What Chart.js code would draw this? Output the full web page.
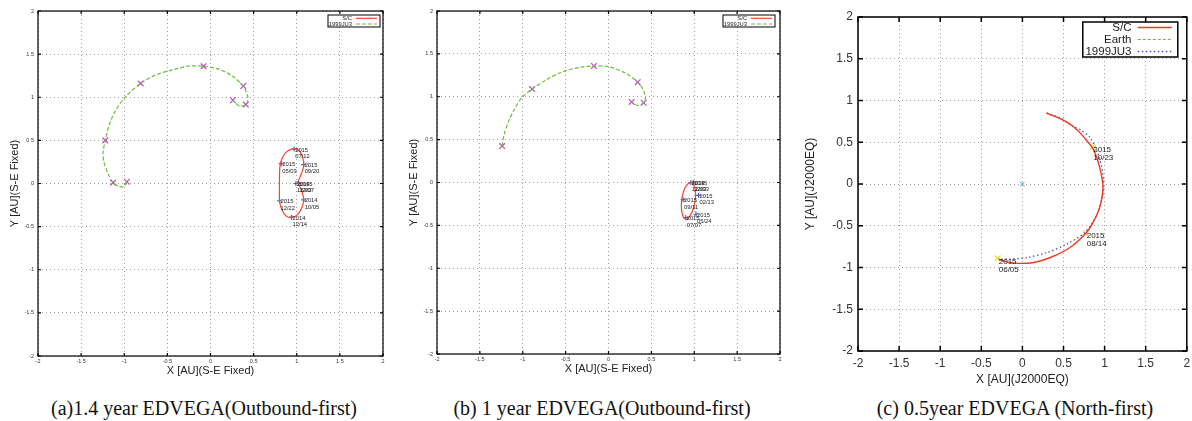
<!DOCTYPE html>
<html>
<head>
<meta charset="utf-8">
<script src="https://cdn.jsdelivr.net/npm/chart.js@4.4.0/dist/chart.umd.min.js"></script>
<style>
  body { margin: 0; background: #fff; width: 1192px; height: 421px; overflow: hidden; position: relative; }
  canvas { position: absolute; top: 0; }
  .cap { position: absolute; top: 397px; line-height: 22px; font-family: "Liberation Serif", "Times New Roman", serif; font-size: 20px; color: #111; white-space: nowrap; transform: translateX(-50%); }
</style>
</head>
<body>
<canvas id="graficoA" width="395" height="382" style="left:0px"></canvas>
<canvas id="graficoB" width="395" height="380" style="left:395px"></canvas>
<canvas id="graficoC" width="397" height="391" style="left:795px"></canvas>
<div class="cap" style="left:204px">(a)1.4 year EDVEGA(Outbound-first)</div>
<div class="cap" style="left:602px">(b) 1 year EDVEGA(Outbound-first)</div>
<div class="cap" style="left:1015px">(c) 0.5year EDVEGA (North-first)</div>
<script>
// ticks comuns (AU)
const ticksAU = [-2, -1.5, -1, -0.5, 0, 0.5, 1, 1.5, 2];

// (a) 1.4 year - S-E fixed
const aScX = [0.97, 0.90, 0.85, 0.81, 0.80, 0.80, 0.80, 0.83, 0.88, 0.94, 1.00, 1.05, 1.08, 1.06, 1.02, 1.01, 1.04, 1.08, 1.07, 1.03, 0.97];
const aScY = [0.405, 0.38, 0.33, 0.23, 0.10, -0.05, -0.20, -0.31, -0.38, -0.395, -0.37, -0.30, -0.20, -0.09, -0.01, 0.01, 0.08, 0.20, 0.30, 0.38, 0.405];
const aJuX = [-0.97, -0.98, -1.02, -1.07, -1.13, -1.19, -1.235, -1.245, -1.22, -1.18, -1.11, -0.99, -0.81, -0.63, -0.43, -0.26, -0.08, 0.11, 0.26, 0.38, 0.43, 0.43, 0.41, 0.34, 0.30, 0.26];
const aJuY = [0.02, -0.01, -0.04, -0.03, 0.01, 0.12, 0.25, 0.36, 0.50, 0.66, 0.83, 1.00, 1.16, 1.26, 1.32, 1.36, 1.36, 1.32, 1.24, 1.13, 1.02, 0.95, 0.915, 0.895, 0.925, 0.965];
const aXmX = [-0.97, -1.13, -1.22, -0.81, -0.08, 0.38, 0.26, 0.41];
const aXmY = [0.02, 0.01, 0.50, 1.16, 1.36, 1.13, 0.965, 0.915];
const aDateX = [0.97, 0.82, 1.08, 0.99, 1.02, 0.80, 1.08, 0.94];
const aDateY = [0.40, 0.23, 0.22, 0.0, 0.0, -0.20, -0.19, -0.39];
const aDateT = ["2015\n07/12", "2015\n05/03", "2015\n09/20", "2014\n12/03", "2015\n12/07", "2015\n12/22", "2014\n10/05", "2014\n12/14"];

// (b) 1 year - S-E fixed
const bScX = [0.97, 1.00, 1.015, 1.01, 0.99, 0.955, 0.91, 0.87, 0.85, 0.855, 0.88, 0.92, 0.97];
const bScY = [0.0, -0.04, -0.12, -0.21, -0.30, -0.38, -0.43, -0.40, -0.30, -0.19, -0.09, -0.02, 0.0];
const bJuX = [-1.24, -1.22, -1.17, -1.10, -1.01, -0.89, -0.74, -0.54, -0.35, -0.17, 0.0, 0.19, 0.34, 0.41, 0.43, 0.41, 0.36, 0.31, 0.27];
const bJuY = [0.425, 0.55, 0.70, 0.85, 0.99, 1.09, 1.19, 1.29, 1.34, 1.36, 1.35, 1.28, 1.17, 1.07, 0.98, 0.93, 0.90, 0.91, 0.94];
const bXmX = [-1.24, -0.89, -0.17, 0.34, 0.27, 0.41];
const bXmY = [0.425, 1.09, 1.36, 1.17, 0.94, 0.93];
const bDateX = [0.96, 0.99, 1.05, 0.87, 0.90, 1.02];
const bDateY = [0.0, 0.0, -0.15, -0.20, -0.41, -0.37];
const bDateT = ["2014\n12/03", "2015\n12/03", "2015\n02/13", "2015\n09/11", "2015\n07/07", "2015\n05/24"];

// (c) 0.5 year - J2000EQ
const cScX = [0.29, 0.42, 0.54, 0.64, 0.74, 0.86, 0.94, 0.98, 0.94, 0.86, 0.78, 0.58, 0.34, 0.14, -0.06, -0.20, -0.29];
const cScY = [0.85, 0.80, 0.74, 0.67, 0.57, 0.42, 0.20, -0.04, -0.28, -0.46, -0.58, -0.76, -0.88, -0.94, -0.95, -0.93, -0.90];
const cEarthX = [];
const cEarthY = [];
const cJuX = [0.30, 0.46, 0.60, 0.72, 0.82, 0.92, 0.98, 0.98, 0.90, 0.76, 0.54, 0.30, 0.06, -0.14, -0.28];
const cJuY = [0.85, 0.79, 0.70, 0.64, 0.56, 0.36, 0.12, -0.12, -0.38, -0.58, -0.72, -0.82, -0.88, -0.90, -0.90];
const cXmX = [0.85, 0.77, -0.30];
const cXmY = [0.44, -0.59, -0.89];
const cSunX = [0];
const cSunY = [0];
const cDateT = ["2015\n10/23", "2015\n08/14", "2015\n06/05"];

const FONTE = '"Liberation Sans", Arial, sans-serif';

function pts(xs, ys) {
    return xs.map((v, i) => ({ x: v, y: ys[i] }));
}

function linha(label, xs, ys, cor, dash, largura) {
    return { label: label, data: pts(xs, ys), showLine: true, borderColor: cor, backgroundColor: cor,
             borderWidth: largura, borderDash: dash, pointRadius: 0, tension: 0.3 };
}

function marcas(xs, ys, cor, estilo, raio) {
    return { data: pts(xs, ys), showLine: false, pointStyle: estilo, pointRadius: raio,
             borderColor: cor, backgroundColor: cor, pointBorderWidth: 1.2 };
}

// moldura estilo gnuplot, ticks internos, datas e legenda
const molduraPlugin = {
    id: 'moldura',
    afterDatasetsDraw(chart, args, o) {
        const ctx = chart.ctx;
        const a = chart.chartArea;
        const sx = chart.scales.x, sy = chart.scales.y;
        ctx.save();

        // datas
        const m = o.marks;
        ctx.font = m.size + 'px ' + FONTE;
        ctx.fillStyle = '#222';
        ctx.textAlign = 'left';
        ctx.textBaseline = 'middle';
        m.x.forEach((v, i) => {
            const px = sx.getPixelForValue(v) + m.dx;
            const py = sy.getPixelForValue(m.y[i]) + m.dy;
            m.t[i].split('\n').forEach((s, j) => ctx.fillText(s, px, py + j * m.lh));
        });

        // moldura
        ctx.setLineDash([]);
        ctx.strokeStyle = '#000';
        ctx.lineWidth = o.lw;
        ctx.strokeRect(a.left, a.top, a.width, a.height);
        ctx.beginPath();
        sx.ticks.forEach(t => {
            const px = sx.getPixelForValue(t.value);
            ctx.moveTo(px, a.bottom); ctx.lineTo(px, a.bottom - o.tick);
            ctx.moveTo(px, a.top); ctx.lineTo(px, a.top + o.tick);
        });
        sy.ticks.forEach(t => {
            const py = sy.getPixelForValue(t.value);
            ctx.moveTo(a.left, py); ctx.lineTo(a.left + o.tick, py);
            ctx.moveTo(a.right, py); ctx.lineTo(a.right - o.tick, py);
        });
        ctx.stroke();

        // legenda
        const k = o.key;
        const bx = a.right - k.right - k.w, by = a.top + k.top;
        ctx.fillStyle = '#fff';
        ctx.fillRect(bx, by, k.w, k.h);
        ctx.strokeStyle = '#000';
        ctx.lineWidth = k.lw;
        ctx.strokeRect(bx, by, k.w, k.h);
        ctx.font = k.size + 'px ' + FONTE;
        ctx.textAlign = 'right';
        chart.data.datasets.filter(d => d.label).forEach((d, i) => {
            const yy = by + k.first + i * k.row;
            ctx.fillStyle = '#222';
            ctx.fillText(d.label, bx + k.text, yy);
            ctx.strokeStyle = d.borderColor;
            ctx.lineWidth = d.borderWidth;
            ctx.setLineDash(d.borderDash || []);
            ctx.beginPath();
            ctx.moveTo(bx + k.s0, yy);
            ctx.lineTo(bx + k.s1, yy);
            ctx.stroke();
        });
        ctx.restore();
    }
};

function eixo(titulo, horizontal, p) {
    return {
        type: 'linear', min: -2, max: 2,
        afterBuildTicks: s => { s.ticks = ticksAU.map(v => ({ value: v })); },
        afterFit: s => {
            if (horizontal) s.height = p.size; else s.width = p.size;
            s.paddingLeft = 0; s.paddingRight = 0; s.paddingTop = 0; s.paddingBottom = 0;
        },
        grid: { color: '#a0a0a0', lineWidth: 1, drawTicks: false },
        border: { display: false, dash: [1, 3] },
        ticks: { color: '#333', padding: p.tickPad, font: { size: p.tickSize, family: FONTE },
                 callback: v => String(v) },
        title: { display: true, text: titulo, color: '#222', font: { size: p.titleSize, family: FONTE },
                 padding: horizontal ? { top: 0, bottom: p.titlePad } : { top: p.titlePad, bottom: 0 } }
    };
}

function criarGrafico(id, datasets, cfg) {
    const ctx = document.getElementById(id).getContext('2d');
    return new Chart(ctx, {
        type: 'scatter',
        data: { datasets: datasets },
        options: {
            responsive: false,
            animation: false,
            devicePixelRatio: 1,
            layout: { padding: { top: cfg.top, right: cfg.right, left: 0, bottom: 0 } },
            plugins: {
                legend: { display: false },
                tooltip: { enabled: false },
                moldura: cfg.moldura
            },
            scales: {
                x: eixo(cfg.xTitle, true, cfg.x),
                y: eixo(cfg.yTitle, false, cfg.y)
            }
        },
        plugins: [molduraPlugin]
    });
}

const keyPeq = { w: 52, h: 12, right: 3, top: 4, lw: 1, size: 5.8, first: 3.3, row: 5.7, text: 24, s0: 28, s1: 49 };

criarGrafico('graficoA', [
    linha('S/C', aScX, aScY, '#f04a2a', [], 1.2),
    linha('1999JU3', aJuX, aJuY, '#6cbf3a', [4, 2], 1.2),
    marcas(aXmX, aXmY, '#b84cc0', 'crossRot', 4),
    marcas(aDateX, aDateY, '#4a5cc8', 'cross', 2.5)
], {
    top: 11, right: 12,
    xTitle: 'X [AU](S-E Fixed)', yTitle: 'Y [AU](S-E Fixed)',
    x: { size: 26, tickPad: 2, tickSize: 5.5, titleSize: 11, titlePad: 4 },
    y: { size: 38, tickPad: 4, tickSize: 5.5, titleSize: 11, titlePad: 8 },
    moldura: { lw: 1.2, tick: 3,
        marks: { x: aDateX, y: aDateY, t: aDateT, size: 5.8, dx: 1, dy: 1, lh: 6.3 },
        key: keyPeq }
});

criarGrafico('graficoB', [
    linha('S/C', bScX, bScY, '#f04a2a', [], 1.2),
    linha('1999JU3', bJuX, bJuY, '#6cbf3a', [4, 2], 1.2),
    marcas(bXmX, bXmY, '#b84cc0', 'crossRot', 4),
    marcas(bDateX, bDateY, '#4a5cc8', 'cross', 2.5)
], {
    top: 11, right: 10,
    xTitle: 'X [AU](S-E Fixed)', yTitle: 'Y [AU](S-E Fixed)',
    x: { size: 26, tickPad: 2, tickSize: 5.5, titleSize: 11, titlePad: 4 },
    y: { size: 42, tickPad: 4, tickSize: 5.5, titleSize: 11, titlePad: 12 },
    moldura: { lw: 1.2, tick: 3,
        marks: { x: bDateX, y: bDateY, t: bDateT, size: 5.8, dx: 1, dy: 1, lh: 6.3 },
        key: Object.assign({}, keyPeq, { right: 5 }) }
});

criarGrafico('graficoC', [
    linha('S/C', cScX, cScY, '#f03a20', [], 1.4),
    linha('Earth', cEarthX, cEarthY, '#6cbf3a', [3, 2], 1.2),
    linha('1999JU3', cJuX, cJuY, '#4858d0', [1.5, 2.5], 1.3),
    marcas(cXmX, cXmY, '#e6dc30', 'crossRot', 4),
    marcas(cSunX, cSunY, '#5ec0d8', 'crossRot', 3)
], {
    top: 17, right: 0,
    xTitle: 'X [AU](J2000EQ)', yTitle: 'Y [AU](J2000EQ)',
    x: { size: 40, tickPad: 5, tickSize: 12, titleSize: 12, titlePad: 4 },
    y: { size: 63, tickPad: 5, tickSize: 12, titleSize: 12, titlePad: 8 },
    moldura: { lw: 1.5, tick: 5,
        marks: { x: cXmX, y: cXmY, t: cDateT, size: 8, dx: 1, dy: 3, lh: 8 },
        key: { w: 95, h: 35, right: 9, top: 5, lw: 1.5, size: 11.5, first: 5.5, row: 12, text: 48.7, s0: 55, s1: 89 } }
});
</script>
</body>
</html>
